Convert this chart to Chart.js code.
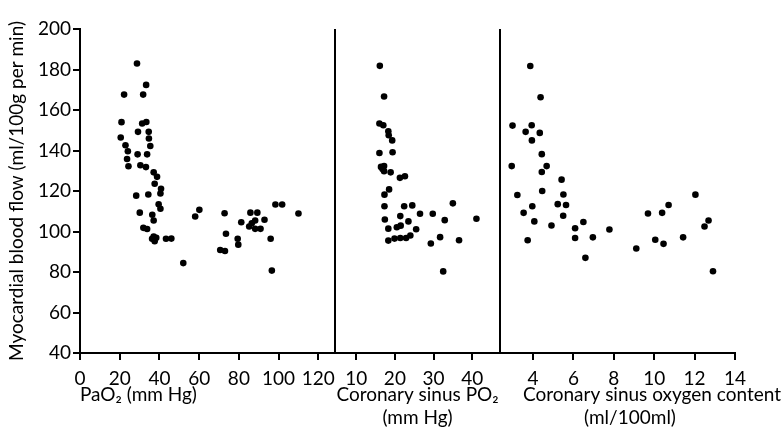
<!DOCTYPE html>
<html>
<head>
<meta charset="utf-8">
<script src="https://cdn.jsdelivr.net/npm/chart.js@4.4.0/dist/chart.umd.min.js"></script>
<style>
    body { margin: 0; background: #fff; }
    #wrap { width: 784px; height: 429px; }
</style>
</head>
<body>
<div id="wrap"><canvas id="flowChart"></canvas></div>
<script>
// Myocardial blood flow (ml/100g per min) against three oxygen measures

// Panel 1: arterial PaO2 (mm Hg)
const paO2 = [28.7, 22.2, 31.8, 33.3, 20.9, 31.3, 33.4, 29.2, 34.6, 20.5, 34.7, 22.9, 35.4, 24.1, 29.0, 33.8,
    23.7, 24.4, 30.4, 33.2, 37.1, 38.8, 37.6, 40.8, 40.5, 28.3, 34.4, 39.6, 40.5, 30.1, 36.4, 37.1,
    31.9, 33.8, 37.1, 36.3, 38.4, 37.6, 43.3, 46.0, 52.0, 58.0, 60.1, 70.6, 73.0, 72.8, 73.5, 79.4,
    79.7, 81.2, 85.8, 89.3, 85.2, 86.5, 88.2, 88.2, 90.9, 92.9, 96.0, 96.6, 98.4, 101.8, 110.0];
const paO2Flow = [183.0, 167.6, 167.6, 172.4, 154.0, 153.3, 154.1, 149.2, 149.2, 146.4, 145.9, 142.6, 142.2, 139.6, 138.1, 138.1,
    135.8, 132.2, 132.7, 131.8, 129.2, 127.0, 123.6, 121.1, 118.8, 117.7, 118.3, 113.4, 111.2, 109.3, 108.3, 105.4,
    101.8, 101.2, 97.5, 96.4, 96.9, 95.2, 96.4, 96.5, 84.4, 107.4, 110.7, 90.9, 90.4, 109.0, 98.9, 96.4,
    93.5, 104.6, 109.3, 109.3, 102.5, 104.1, 105.4, 101.3, 101.3, 105.8, 96.4, 80.7, 113.3, 113.3, 108.9];

// Panel 2: coronary sinus PO2 (mm Hg)
const sinusPO2 = [16.1, 17.2, 16.0, 17.0, 18.3, 18.4, 19.3, 16.0, 19.4, 16.4, 17.2, 16.8, 17.2, 18.9, 21.3, 22.6,
    18.5, 17.3, 17.3, 22.4, 24.5, 35.0, 21.4, 26.5, 29.8, 17.4, 23.5, 32.9, 41.1, 18.3, 20.5, 21.5,
    25.5, 18.3, 19.9, 21.4, 22.9, 24.0, 29.3, 31.7, 36.6, 32.5];
const sinusPO2Flow = [181.8, 166.7, 153.3, 152.5, 149.5, 147.5, 145.0, 138.8, 139.1, 131.9, 132.3, 130.9, 129.8, 129.2, 126.5, 127.3,
    120.8, 118.2, 112.5, 112.5, 112.9, 113.9, 107.6, 108.8, 108.8, 105.9, 105.0, 105.6, 106.3, 101.4, 102.1, 102.9,
    101.1, 95.5, 96.5, 96.8, 96.8, 98.0, 94.1, 97.2, 95.7, 80.3];

// Panel 3: coronary sinus oxygen content (ml/100ml)
const sinusO2Content = [3.86, 4.37, 2.98, 3.93, 3.63, 4.33, 3.94, 4.43, 2.94, 4.67, 4.43, 5.41, 3.22, 4.45, 5.50, 5.22,
    5.63, 3.96, 3.53, 5.49, 4.06, 6.49, 4.91, 6.08, 7.78, 3.73, 6.08, 6.96, 6.59, 9.69, 10.39, 10.71,
    12.04, 9.11, 10.05, 10.46, 11.43, 12.49, 12.69, 12.91];
const sinusO2Flow = [181.7, 166.3, 152.3, 152.5, 149.2, 148.7, 145.0, 138.2, 132.3, 132.3, 129.4, 125.6, 118.0, 120.0, 118.3, 113.5,
    113.1, 112.5, 109.2, 107.8, 105.0, 104.7, 103.0, 101.6, 101.0, 95.7, 96.8, 97.1, 87.0, 108.9, 109.2, 113.1,
    118.2, 91.6, 95.9, 93.9, 97.1, 102.5, 105.4, 80.4];

// Tick labels
const flowTicks = [40, 60, 80, 100, 120, 140, 160, 180, 200];
const paO2Ticks = [0, 20, 40, 60, 80, 100, 120];
const sinusPO2Ticks = [10, 20, 30, 40];
const sinusO2Ticks = [4, 6, 8, 10, 12, 14];

const FONT = "Lato";
const TITLE_SIZE = 19;
const TITLE_LH = 1.2;

function toPoints(xs, ys) {
    return xs.map((x, i) => ({ x: x, y: ys[i] }));
}

function fixedTicks(values) {
    return function (scale) {
        scale.ticks = values.map((v) => ({ value: v }));
    };
}

// Common look of every axis: black line, short outside ticks, no grid
function axisStyle() {
    return {
        border: { color: "#000", width: 2 },
        grid: { drawOnChartArea: false, drawTicks: true, tickLength: 7, color: "#000", lineWidth: 2 },
        ticks: { color: "#000", font: { family: FONT, size: 19 }, padding: 3, maxRotation: 0, autoSkip: false },
    };
}

function panelAxis(min, max, ticks, weight, title) {
    const axis = axisStyle();
    axis.type = "linear";
    axis.position = "bottom";
    axis.stack = "panels";
    axis.stackWeight = weight;
    axis.min = min;
    axis.max = max;
    axis.ticks.padding = 7;
    axis.afterBuildTicks = fixedTicks(ticks);
    axis.afterFit = (scale) => { scale.height = 76; };
    axis.title = title;
    return axis;
}

function xTitle(lines, align) {
    return {
        display: true,
        text: lines,
        align: align,
        color: "#000",
        font: { family: FONT, size: TITLE_SIZE, lineHeight: TITLE_LH },
        padding: { top: 0, bottom: 0 },
    };
}

// Vertical lines between the panels plus the off-centre title of the last panel
const panelExtras = {
    id: "panelExtras",
    afterDraw(chart) {
        const { ctx, chartArea } = chart;
        ctx.save();
        ctx.strokeStyle = "#000";
        ctx.lineWidth = 2;
        ["x2", "x3"].forEach((id) => {
            const left = chart.scales[id].left;
            ctx.beginPath();
            ctx.moveTo(left, chartArea.top);
            ctx.lineTo(left, chartArea.bottom);
            ctx.stroke();
        });

        const s = chart.scales.x3;
        const lh = TITLE_SIZE * TITLE_LH;
        ctx.fillStyle = "#000";
        ctx.font = TITLE_SIZE + "px " + FONT;
        ctx.textAlign = "center";
        ctx.textBaseline = "middle";
        ctx.fillText("Coronary sinus oxygen content", s.left + 152, s.bottom - lh * 1.5);
        ctx.fillText("(ml/100ml)", s.left + 130, s.bottom - lh / 2);
        ctx.restore();
    },
};

const yAxis = axisStyle();
yAxis.min = 40;
yAxis.max = 200;
yAxis.ticks.padding = 2;
yAxis.afterBuildTicks = fixedTicks(flowTicks);
yAxis.afterFit = (scale) => { scale.width = 80; };
yAxis.title = {
    display: true,
    text: "Myocardial blood flow (ml/100g per min)",
    color: "#000",
    font: { family: FONT, size: 19, lineHeight: 1.15 },
    padding: { top: 6, bottom: 0 },
};

const dotStyle = { pointRadius: 3.3, pointHoverRadius: 3.3, pointBackgroundColor: "#000", pointBorderWidth: 0, showLine: false };

new Chart(document.getElementById("flowChart"), {
    type: "scatter",
    data: {
        datasets: [
            Object.assign({ label: "PaO2", data: toPoints(paO2, paO2Flow), xAxisID: "x", yAxisID: "y" }, dotStyle),
            Object.assign({ label: "Coronary sinus PO2", data: toPoints(sinusPO2, sinusPO2Flow), xAxisID: "x2", yAxisID: "y" }, dotStyle),
            Object.assign({ label: "Coronary sinus oxygen content", data: toPoints(sinusO2Content, sinusO2Flow), xAxisID: "x3", yAxisID: "y" }, dotStyle),
        ],
    },
    options: {
        responsive: true,
        maintainAspectRatio: false,
        animation: false,
        layout: { padding: { top: 29, right: 49, bottom: 0, left: 0 } },
        plugins: { legend: { display: false }, tooltip: { enabled: false } },
        scales: {
            x: panelAxis(0, 128.4, paO2Ticks, 255, xTitle(["PaO₂ (mm Hg)", ""], "start")),
            x2: panelAxis(4.5, 47.2, sinusPO2Ticks, 165, xTitle(["Coronary sinus PO₂", "(mm Hg)"], "center")),
            x3: panelAxis(2.36, 14, sinusO2Ticks, 235, { display: false }),
            y: yAxis,
        },
    },
    plugins: [panelExtras],
});
</script>
</body>
</html>
